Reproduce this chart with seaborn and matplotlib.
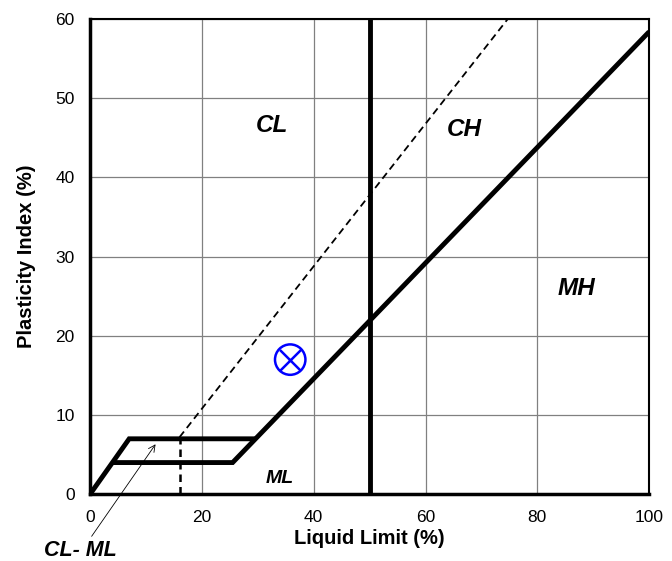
import matplotlib
matplotlib.use("Agg")
import matplotlib.pyplot as plt
import matplotlib.ticker as ticker
import seaborn as sns

sns.set_theme(style="white")
plt.rcParams['font.family'] = ['Liberation Sans', 'DejaVu Sans']
plt.rcParams['text.color'] = 'black'
plt.rcParams['axes.labelcolor'] = 'black'

# chart lines (liquid limit, plasticity index)
clml_top_ll = [0, 7, 29.6]
clml_top_pi = [0, 7, 7]
a_line_ll = [4, 25.5, 29.6, 100]
a_line_pi = [4, 4, 7, 58.4]
ll50_ll = [50, 50]
ll50_pi = [0, 60]
u_vert_ll = [16, 16]
u_vert_pi = [0, 7.2]
u_line_ll = [16, 74.7]
u_line_pi = [7.2, 60]

# sample point
sample_ll = [35.8]
sample_pi = [17.0]

# zone labels
zone_names = ['CL', 'CH', 'MH']
zone_ll = [32.5, 67, 87]
zone_pi = [46.5, 46, 26]

fig = plt.figure(figsize=(6.72, 5.61), dpi=100)
ax = fig.add_axes([0.134, 0.119, 0.832, 0.847])

ax.grid(True, color='#808080', lw=0.9)
ax.set_axisbelow(True)

for xs, ys in [(clml_top_ll, clml_top_pi), (a_line_ll, a_line_pi), (ll50_ll, ll50_pi)]:
    sns.lineplot(x=xs, y=ys, sort=False, estimator=None, color='black', lw=3.5, ax=ax,
                 solid_joinstyle='miter', solid_capstyle='butt')
sns.lineplot(x=u_vert_ll, y=u_vert_pi, sort=False, estimator=None, color='black', lw=1.8,
             ax=ax, linestyle=(0, (3, 2)))
sns.lineplot(x=u_line_ll, y=u_line_pi, sort=False, estimator=None, color='black', lw=1.3,
             ax=ax, linestyle=(0, (4, 2.5)))

sns.scatterplot(x=sample_ll, y=sample_pi, marker='o', s=480, facecolor='none',
                edgecolor='#0000ff', linewidth=1.8, ax=ax, zorder=5)
sns.scatterplot(x=sample_ll, y=sample_pi, marker='x', s=230, color='#0000ff',
                linewidth=1.8, ax=ax, zorder=5)

for name, x, y in zip(zone_names, zone_ll, zone_pi):
    ax.text(x, y, name, fontsize=17.5, fontweight='bold', style='italic', ha='center', va='center')
ax.text(34, 2, 'ML', fontsize=14, fontweight='bold', style='italic', ha='center', va='center')

ax.annotate('', xy=(12, 6.6), xytext=(0, -5.6), annotation_clip=False,
            arrowprops=dict(arrowstyle='->', lw=0.6, color='black'))
ax.text(-1.8, -7.15, 'CL- ML', fontsize=15.5, fontweight='bold', style='italic',
        ha='center', va='center', clip_on=False)

ax.set_xlim(0, 100)
ax.set_ylim(0, 60)
ax.xaxis.set_major_locator(ticker.MultipleLocator(20))
ax.xaxis.set_minor_locator(ticker.MultipleLocator(10))
ax.yaxis.set_major_locator(ticker.MultipleLocator(10))
ax.yaxis.set_minor_locator(ticker.MultipleLocator(5))
ax.tick_params(which='major', length=0, labelsize=12.5, pad=11, labelcolor='black')
ax.tick_params(which='minor', length=4, direction='in', color='#808080', width=1)

ax.set_xlabel('Liquid Limit (%)', fontsize=14.5, fontweight='bold', labelpad=3)
ax.set_ylabel('Plasticity Index (%)', fontsize=14.5, fontweight='bold', labelpad=14)

for side in ['left', 'bottom']:
    ax.spines[side].set_linewidth(2.5)
    ax.spines[side].set_color('black')
for side in ['top', 'right']:
    ax.spines[side].set_linewidth(1.5)
    ax.spines[side].set_color('black')

fig.savefig('out.png', dpi=100)
